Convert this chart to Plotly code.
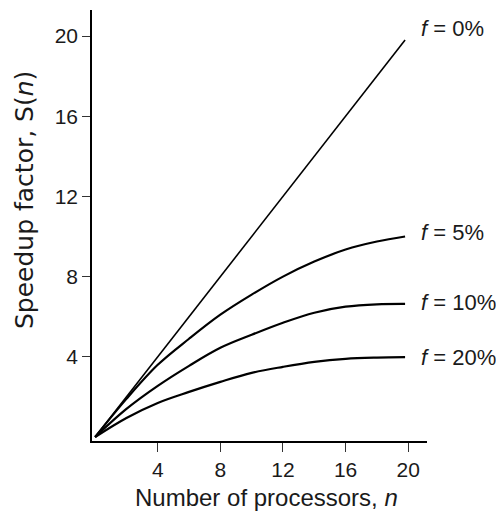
import plotly.graph_objects as go

# Number of processors (x) and speedup values
n_values = [0, 2, 4, 6, 8, 10, 12, 14, 16, 18, 19.8]
speedup_f0 = [0, 2, 4, 6, 8, 10, 12, 14, 16, 18, 19.8]
speedup_f5 = [0, 1.9, 3.6, 4.9, 6.1, 7.1, 8.0, 8.75, 9.35, 9.75, 10.0]
speedup_f10 = [0, 1.4, 2.55, 3.55, 4.45, 5.1, 5.7, 6.2, 6.5, 6.62, 6.64]
speedup_f20 = [0, 0.95, 1.7, 2.25, 2.75, 3.2, 3.5, 3.75, 3.9, 3.96, 3.98]

series_labels = ["<i>f</i> = 0%", "<i>f</i> = 5%", "<i>f</i> = 10%", "<i>f</i> = 20%"]
label_y = [20.4, 10.2, 6.7, 3.95]
tick_vals = [4, 8, 12, 16, 20]
x_title = "Number of processors, <i>n</i>"
y_title = "Speedup factor, S(<i>n</i>)"

FONT = "Liberation Sans, Arial, sans-serif"
TXT = "#1a1a1a"

fig = go.Figure()
for vals, w, shp in zip([speedup_f0, speedup_f5, speedup_f10, speedup_f20],
                        [1.6, 2.2, 2.2, 2.2], ["linear", "spline", "spline", "spline"]):
    fig.add_trace(go.Scatter(x=n_values, y=vals, mode="lines",
                             line=dict(color="black", width=w, shape=shp),
                             showlegend=False, hoverinfo="skip"))

for lab, yy in zip(series_labels, label_y):
    fig.add_annotation(x=20.7, y=yy, xref="x", yref="y", text=lab, showarrow=False,
                       xanchor="left", yanchor="middle",
                       font=dict(family=FONT, size=22, color=TXT))

# axis titles
fig.add_annotation(x=0.52, y=-0.130, xref="paper", yref="paper", text=x_title,
                   showarrow=False, xanchor="center", yanchor="middle",
                   font=dict(family=FONT, size=24, color=TXT))
fig.add_annotation(x=-0.203, y=0.559, xref="paper", yref="paper", text=y_title,
                   showarrow=False, xanchor="center", yanchor="middle", textangle=-90,
                   font=dict(family="DejaVu Sans, sans-serif", size=25, color=TXT))

fig.update_layout(
    width=496, height=517,
    margin=dict(l=84, r=77, t=2, b=84),
    paper_bgcolor="white", plot_bgcolor="white",
    font=dict(family=FONT, size=20, color=TXT),
)
fig.update_xaxes(range=[-0.2, 21.2], tickvals=tick_vals, ticktext=[str(v) for v in tick_vals],
                 automargin=False,
                 showgrid=False, zeroline=False, showline=True, linecolor="black", linewidth=1.5,
                 ticks="outside", ticklen=9, tickwidth=1, tickcolor="#333",
                 tickfont=dict(family=FONT, size=21, color=TXT))
fig.update_yaxes(range=[-0.2, 21.3], tickvals=tick_vals, ticktext=[str(v) for v in tick_vals],
                 automargin=False,
                 showgrid=False, zeroline=False, showline=True, linecolor="black", linewidth=1.5,
                 ticks="outside", ticklen=8, tickwidth=1, tickcolor="#333",
                 tickfont=dict(family=FONT, size=21, color=TXT))

fig.write_html("out.html")
